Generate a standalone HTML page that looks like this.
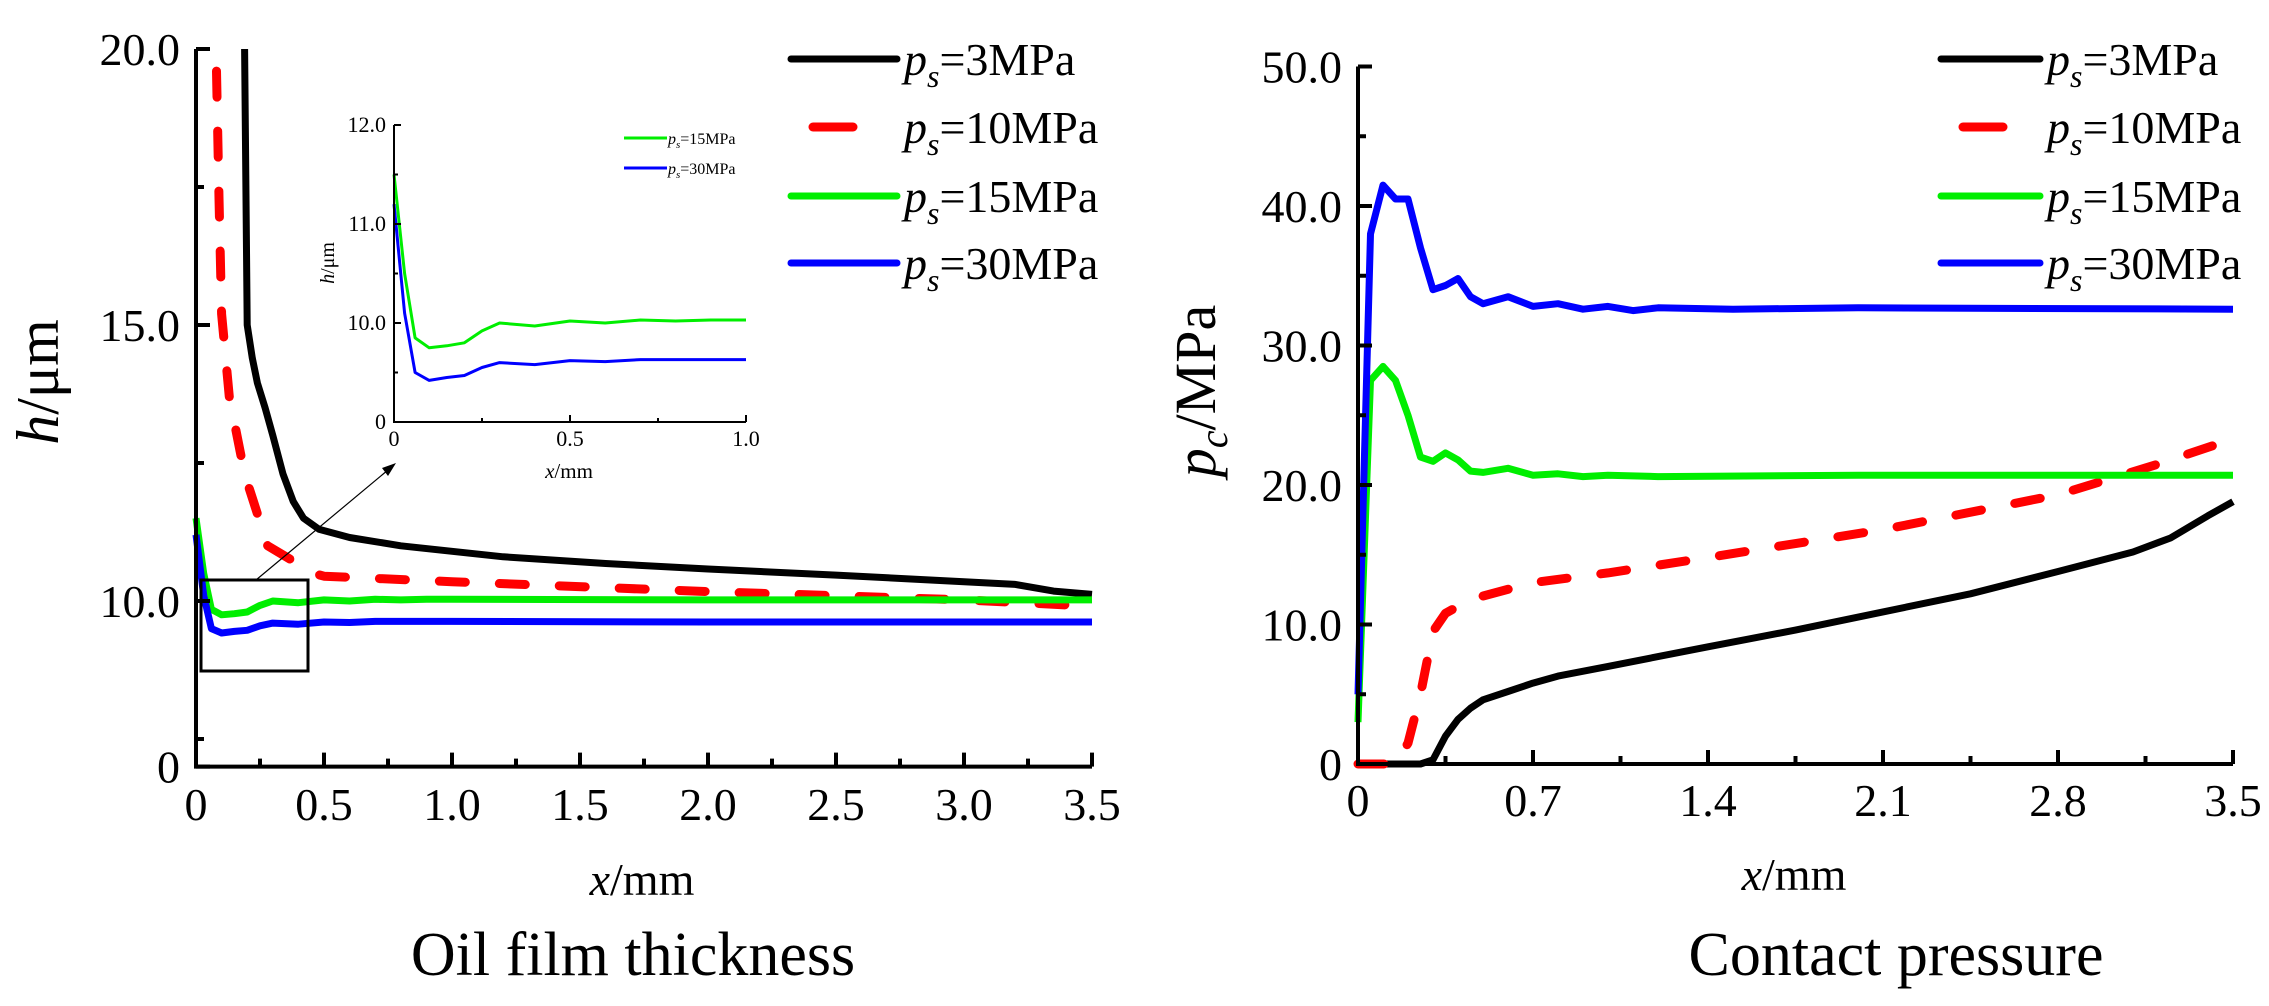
<!DOCTYPE html>
<html><head><meta charset="utf-8">
<style>
html,body{margin:0;padding:0;background:#fff;}
svg{display:block;font-family:"Liberation Serif",serif;}
svg text{font-family:"Liberation Serif",serif;}
</style></head>
<body>
<svg id="chart" width="2269" height="1006" viewBox="0 0 2269 1006" xmlns="http://www.w3.org/2000/svg" font-family="Liberation Serif, serif">
</svg>
<script>
// ---------- data ----------
const hX3 = [0.19,0.2,0.22,0.24,0.27,0.3,0.34,0.38,0.42,0.48,0.6,0.8,1.2,1.6,2.0,2.5,3.0,3.2,3.35,3.5];
const hY3 = [20,15.0,14.4,13.95,13.5,13.0,12.3,11.8,11.5,11.3,11.15,11.0,10.8,10.68,10.58,10.47,10.35,10.3,10.18,10.12];
const hX10 = [0.08,0.09,0.1,0.13,0.19,0.28,0.46,0.5,1.0,2.0,3.0,3.4,3.5];
const hY10 = [19.6,17.3,15.2,13.7,12.3,11.0,10.5,10.45,10.35,10.17,10.02,9.93,9.92];
const hX15 = [0,0.03,0.06,0.1,0.15,0.2,0.25,0.3,0.4,0.5,0.6,0.7,0.8,0.9,1.0,2.0,3.5];
const hY15 = [11.5,10.5,9.85,9.75,9.77,9.8,9.92,10.0,9.97,10.02,10.0,10.03,10.02,10.03,10.03,10.02,10.02];
const hX30 = [0,0.03,0.06,0.1,0.15,0.2,0.25,0.3,0.4,0.5,0.6,0.7,1.0,2.0,3.5];
const hY30 = [11.2,10.1,9.5,9.42,9.45,9.47,9.55,9.6,9.58,9.62,9.61,9.63,9.63,9.62,9.62];
const hXTicks = [0,0.5,1.0,1.5,2.0,2.5,3.0,3.5];
const hXTickLabels = ["0","0.5","1.0","1.5","2.0","2.5","3.0","3.5"];
const hYTicks = [7,10,15,20];
const hYTickLabels = ["0","10.0","15.0","20.0"];
const insetXTicks = [0,0.5,1.0];
const insetXTickLabels = ["0","0.5","1.0"];
const insetYTicks = [9,10,11,12];
const insetYTickLabels = ["0","10.0","11.0","12.0"];

const pX3 = [0,0.25,0.3,0.35,0.4,0.45,0.5,0.6,0.7,0.8,1.0,1.4,1.75,2.1,2.45,2.8,3.1,3.25,3.4,3.5];
const pY3 = [0,0,0.3,2,3.2,4,4.6,5.2,5.8,6.3,7.0,8.4,9.6,10.9,12.2,13.8,15.2,16.2,17.8,18.8];
const pX10 = [0,0.15,0.2,0.25,0.3,0.35,0.45,0.7,1.0,1.4,2.1,2.8,3.2,3.5];
const pY10 = [0,0,1.5,5,9.5,10.8,11.8,13,13.7,14.8,16.8,19.3,21.5,23.3];
const pX15 = [0,0.05,0.1,0.15,0.2,0.25,0.3,0.35,0.4,0.45,0.5,0.6,0.7,0.8,0.9,1.0,1.2,2.0,3.5];
const pY15 = [3,27.5,28.5,27.5,25,22,21.7,22.3,21.8,21,20.9,21.2,20.7,20.8,20.6,20.7,20.6,20.7,20.7];
const pX30 = [0,0.05,0.1,0.15,0.2,0.25,0.3,0.35,0.4,0.45,0.5,0.6,0.7,0.8,0.9,1.0,1.1,1.2,1.5,2.0,3.5];
const pY30 = [5,38,41.5,40.5,40.5,37,34,34.3,34.8,33.5,33,33.5,32.8,33,32.6,32.8,32.5,32.7,32.6,32.7,32.6];
const pXTicks = [0,0.7,1.4,2.1,2.8,3.5];
const pXTickLabels = ["0","0.7","1.4","2.1","2.8","3.5"];
const pYTicks = [0,10,20,30,40,50];
const pYTickLabels = ["0","10.0","20.0","30.0","40.0","50.0"];
const legendLabels = ["3MPa","10MPa","15MPa","30MPa"];

// ---------- helpers ----------
const svg = document.getElementById('chart');
const NS = 'http://www.w3.org/2000/svg';
const FONT = '"Liberation Serif", serif';
function mk(tag, attrs, parent){
  const e = document.createElementNS(NS, tag);
  for (const k in attrs) e.setAttribute(k, attrs[k]);
  if (tag === 'text') e.style.fontFamily = FONT;
  (parent||svg).appendChild(e);
  return e;
}
function pathD(xs, ys, sx, sy){
  return xs.map((x,i)=>(i?'L':'M')+sx(x).toFixed(1)+','+sy(ys[i]).toFixed(1)).join(' ');
}

// ---------- left chart ----------
const lx = v => 196 + v*256;
const ly = v => 601 - (v-10)*55.2;
const left = mk('g', {});



const series = [
  {xs:hX3, ys:hY3, c:'#000', w:7, dash:null, n:'series-3mpa'},
  {xs:hX10, ys:hY10, c:'#ff0000', w:9, dash:'26 34', n:'series-10mpa'},
  {xs:hX15, ys:hY15, c:'#00ee00', w:7, dash:null, n:'series-15mpa'},
  {xs:hX30, ys:hY30, c:'#0000ff', w:7, dash:null, n:'series-30mpa'}
];
series.forEach(s=>{
  const p = mk('path', {d:pathD(s.xs,s.ys,lx,ly), fill:'none', stroke:s.c, 'stroke-width':s.w, 'stroke-linejoin':'round', 'stroke-linecap':s.dash?'round':'butt'}, left);
  if (s.dash) p.setAttribute('stroke-dasharray', s.dash);
  
  
});
const lAxis = mk('path', {d:`M${lx(0)},${ly(20)} V${ly(7)} H${lx(3.5)}`, fill:'none', stroke:'#000', 'stroke-width':4}, left);


hXTicks.forEach((t,i)=>{
  mk('line',{x1:lx(t),x2:lx(t),y1:ly(7),y2:ly(7)-14,stroke:'#000','stroke-width':4},left);
  if (i<hXTicks.length-1) mk('line',{x1:lx(t+0.25),x2:lx(t+0.25),y1:ly(7),y2:ly(7)-8,stroke:'#000','stroke-width':4},left);
  const tx = mk('text',{x:lx(t),y:820,'font-size':46,'text-anchor':'middle'},left);
  tx.textContent = hXTickLabels[i];
  
  
});
hYTicks.forEach((t,i)=>{
  mk('line',{x1:lx(0),x2:lx(0)+14,y1:ly(t),y2:ly(t),stroke:'#000','stroke-width':4},left);
  const tx = mk('text',{x:180,y:ly(t)+16,'font-size':46,'text-anchor':'end'},left);
  tx.textContent = hYTickLabels[i];
  
  
});
[7.5,12.5,17.5].forEach(t=>mk('line',{x1:lx(0),x2:lx(0)+8,y1:ly(t),y2:ly(t),stroke:'#000','stroke-width':4},left));
const lyl = mk('text',{transform:'translate(58,382) rotate(-90)','font-size':60,'text-anchor':'middle'},left);
lyl.innerHTML = '<tspan font-style="italic">h</tspan>/μm';


const lxl = mk('text',{x:642,y:895,'font-size':46,'text-anchor':'middle'},left);
lxl.innerHTML = '<tspan font-style="italic">x</tspan>/mm';


const lt = mk('text',{x:633,y:975,'font-size':62,'text-anchor':'middle'},left);
lt.textContent = 'Oil film thickness';


const zb = mk('rect',{x:201,y:580,width:107,height:91,fill:'none',stroke:'#000','stroke-width':3},left);


mk('line',{x1:256,y1:580,x2:388,y2:470,stroke:'#000','stroke-width':1.2},left);
mk('polygon',{points:'396,463 382,468 388,476',fill:'#000'},left);

// ---------- inset ----------
const ix = v => 394 + v*352;
const iy = v => 323 - (v-10)*99;
const inset = mk('g',{},left);


[[hX15,hY15,'#00ee00','inset-series-15mpa'],[hX30,hY30,'#0000ff','inset-series-30mpa']].forEach(s=>{
  const xs=[],ys=[];
  s[0].forEach((x,i)=>{ if(x<=1.0){xs.push(x);ys.push(s[1][i]);} });
  const p = mk('path',{d:pathD(xs,ys,ix,iy),fill:'none',stroke:s[2],'stroke-width':3,'stroke-linejoin':'round'},inset);
  
  
});
mk('path',{d:`M${ix(0)},${iy(12)} V${iy(9)} H${ix(1)}`,fill:'none',stroke:'#000','stroke-width':2},inset);
insetXTicks.forEach((t,i)=>{
  mk('line',{x1:ix(t),x2:ix(t),y1:iy(9),y2:iy(9)-7,stroke:'#000','stroke-width':2},inset);
  const tx = mk('text',{x:ix(t),y:446,'font-size':22,'text-anchor':'middle'},inset);
  tx.textContent = insetXTickLabels[i];
});
[0.25,0.75].forEach(t=>mk('line',{x1:ix(t),x2:ix(t),y1:iy(9),y2:iy(9)-4,stroke:'#000','stroke-width':2},inset));
insetYTicks.forEach((t,i)=>{
  mk('line',{x1:ix(0),x2:ix(0)+7,y1:iy(t),y2:iy(t),stroke:'#000','stroke-width':2},inset);
  const tx = mk('text',{x:386,y:iy(t)+7,'font-size':22,'text-anchor':'end'},inset);
  tx.textContent = insetYTickLabels[i];
});
[9.5,10.5,11.5].forEach(t=>mk('line',{x1:ix(0),x2:ix(0)+4,y1:iy(t),y2:iy(t),stroke:'#000','stroke-width':2},inset));
const iyl = mk('text',{transform:'translate(334,263) rotate(-90)','font-size':20,'text-anchor':'middle'},inset);
iyl.innerHTML = '<tspan font-style="italic">h</tspan>/μm';
const ixl = mk('text',{x:569,y:478,'font-size':21,'text-anchor':'middle'},inset);
ixl.innerHTML = '<tspan font-style="italic">x</tspan>/mm';
[['15MPa','#00ee00',138],['30MPa','#0000ff',168]].forEach(l=>{
  mk('line',{x1:624,x2:667,y1:l[2],y2:l[2],stroke:l[1],'stroke-width':3},inset);
  const tx = mk('text',{x:668,y:l[2]+6,'font-size':16},inset);
  tx.innerHTML = '<tspan font-style="italic">p</tspan><tspan font-style="italic" font-size="11" dy="4">s</tspan><tspan dy="-4">='+l[0]+'</tspan>';
  
  
});

// ---------- legends ----------
function legend(x1,x2,tx,rows,name){
  const g = mk('g',{});
  
  
  series.forEach((s,i)=>{
    const y = rows[i];
    const ln = mk('line',{x1:x1,x2:x2,y1:y,y2:y,stroke:s.c,'stroke-width':s.w,'stroke-linecap':'round'},g);
    if (s.dash){ ln.setAttribute('x1', x1+22); ln.setAttribute('x2', x2-6); ln.setAttribute('stroke-dasharray','40 38'); }
    const t = mk('text',{x:tx,y:y+16,'font-size':46},g);
    t.innerHTML = '<tspan font-style="italic">p</tspan><tspan font-style="italic" font-size="32" dy="12">s</tspan><tspan dy="-12">='+legendLabels[i]+'</tspan>';
    
    
  });
}
legend(791,897,904,[59,127,196,263],'thickness-legend');
legend(1941,2040,2047,[59,127,196,263],'pressure-legend');

// ---------- right chart ----------
const rx = v => 1358 + v*250;
const ry = v => 764 - v*13.95;
const right = mk('g',{});


const pser = [[pX3,pY3],[pX10,pY10],[pX15,pY15],[pX30,pY30]];
series.forEach((s,i)=>{
  const p = mk('path',{d:pathD(pser[i][0],pser[i][1],rx,ry),fill:'none',stroke:s.c,'stroke-width':s.w,'stroke-linejoin':'round','stroke-linecap':s.dash?'round':'butt'},right);
  if (s.dash) p.setAttribute('stroke-dasharray', s.dash);
  
  
});
mk('path',{d:`M${rx(0)},${ry(50)} V${ry(0)} H${rx(3.5)}`,fill:'none',stroke:'#000','stroke-width':4},right);
pXTicks.forEach((t,i)=>{
  mk('line',{x1:rx(t),x2:rx(t),y1:ry(0),y2:ry(0)-14,stroke:'#000','stroke-width':4},right);
  if (i<pXTicks.length-1) mk('line',{x1:rx(t+0.35),x2:rx(t+0.35),y1:ry(0),y2:ry(0)-8,stroke:'#000','stroke-width':4},right);
  const tx = mk('text',{x:rx(t),y:816,'font-size':46,'text-anchor':'middle'},right);
  tx.textContent = pXTickLabels[i];
  
  
});
pYTicks.forEach((t,i)=>{
  mk('line',{x1:rx(0),x2:rx(0)+14,y1:ry(t),y2:ry(t),stroke:'#000','stroke-width':4},right);
  if (t<50) mk('line',{x1:rx(0),x2:rx(0)+8,y1:ry(t+5),y2:ry(t+5),stroke:'#000','stroke-width':4},right);
  const tx = mk('text',{x:1342,y:ry(t)+16,'font-size':46,'text-anchor':'end'},right);
  tx.textContent = pYTickLabels[i];
  
  
});
const ryl = mk('text',{transform:'translate(1215,391) rotate(-90)','font-size':58,'text-anchor':'middle'},right);
ryl.innerHTML = '<tspan font-style="italic">p</tspan><tspan font-style="italic" font-size="40" dy="12">c</tspan><tspan dy="-12">/MPa</tspan>';


const rxl = mk('text',{x:1794,y:890,'font-size':46,'text-anchor':'middle'},right);
rxl.innerHTML = '<tspan font-style="italic">x</tspan>/mm';


const rt = mk('text',{x:1896,y:975,'font-size':62,'text-anchor':'middle'},right);
rt.textContent = 'Contact pressure';


</script>
</body></html>
